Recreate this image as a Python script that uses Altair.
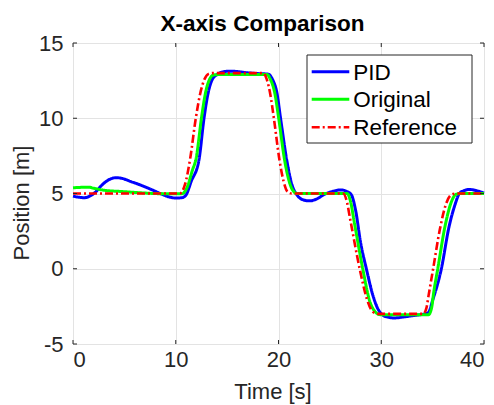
import altair as alt
import pandas as pd

# ---- data ----
pid_t = [0, 0.6, 1.1, 1.7, 2.2, 2.8, 3.4, 4.2, 4.8, 5.6, 6.5, 7.5, 8.5, 9.3, 10.0, 10.6, 11.0, 11.5,
         12.26, 12.75, 13.15, 13.5, 14.0, 14.6, 15.3, 16.0, 17.0, 18.0, 19.0, 19.4, 19.85, 20.2, 20.8,
         21.3, 21.8, 22.4, 23.0, 23.6, 24.5, 25.3, 26.1, 26.6, 27.1, 27.5, 28.0, 28.55, 29.2, 29.7,
         30.2, 30.7, 31.3, 32.0, 33.0, 34.2, 34.6, 35.0, 35.85, 36.6, 37.2, 37.6, 38.1, 38.6, 39.2, 40.0]
pid_y = [4.82, 4.75, 4.72, 4.85, 5.1, 5.55, 5.88, 6.05, 6.0, 5.8, 5.58, 5.3, 5.0, 4.78, 4.7, 4.72, 4.9, 5.8,
         7.23, 10.0, 11.67, 12.5, 12.9, 13.08, 13.13, 13.1, 13.02, 12.97, 12.93, 12.6, 11.67, 10.0, 7.23,
         5.6, 4.9, 4.58, 4.51, 4.6, 4.95, 5.15, 5.24, 5.15, 4.9, 3.9, 1.7, 0.0, -1.8, -2.7,
         -3.1, -3.22, -3.27, -3.22, -3.12, -3.0, -2.9, -2.1, 0.0, 2.8, 4.3, 5.0, 5.2, 5.27, 5.2, 5.03]

orig_t = [0, 1.5, 2.0, 3.0, 5.0, 7.0, 9.0, 10.6, 11.1, 11.6, 12.0, 12.5, 12.9, 13.3, 13.7, 14.2,
          18.9, 19.2, 19.63, 20.02, 20.6, 21.0, 21.4, 21.8, 26.7, 27.0, 27.4, 28.2, 28.9, 29.4, 29.9,
          34.6, 34.9, 35.1, 35.5, 36.2, 36.8, 37.3, 37.8, 40.0]
orig_y = [5.38, 5.42, 5.35, 5.22, 5.12, 5.03, 4.98, 4.98, 5.4, 6.5, 7.4, 10.0, 11.7, 12.6, 12.88, 12.9,
          12.9, 12.6, 11.7, 10.0, 7.2, 5.9, 5.2, 5.0, 5.0, 4.5, 3.0, 0.0, -2.2, -2.85, -3.05,
          -3.05, -2.6, -1.6, 0.0, 2.8, 4.4, 4.95, 5.0, 5.0]

ref_t = [0, 10.4, 10.9, 11.4, 11.95, 12.4, 12.8, 13.2, 13.6, 18.5, 18.85, 19.2, 19.55, 20.1, 20.5, 20.9,
         21.3, 26.3, 26.6, 27.0, 27.9, 28.6, 29.0, 29.4, 29.8, 34.1, 34.4, 34.6, 35.05, 35.7, 36.3,
         36.8, 37.3, 40.0]
ref_y = [5, 5, 5.6, 7.3, 10.0, 11.7, 12.6, 12.95, 13.0, 13.0, 12.6, 11.6, 10.0, 7.2, 5.8, 5.1,
         5.0, 5.0, 4.6, 3.2, 0.0, -2.0, -2.7, -2.95, -3.0, -3.0, -2.6, -1.8, 0.0, 2.6, 4.3,
         4.9, 5.0, 5.0]

series_names = ["PID", "Original", "Reference"]
series_colors = ["#0000FF", "#00FF00", "#FF0000"]
series_dash = [[1, 0], [1, 0], [8, 3, 2, 3]]
series_width = [3, 3, 2.6]

x_ticks = [0, 10, 20, 30, 40]
y_ticks = [-5, 0, 5, 10, 15]

W, H = 411, 301
FONT = "Liberation Sans"
AX = "#262626"

frames = {
    "PID": pd.DataFrame({"t": pid_t, "y": pid_y, "series": "PID"}),
    "Original": pd.DataFrame({"t": orig_t, "y": orig_y, "series": "Original"}),
    "Reference": pd.DataFrame({"t": ref_t, "y": ref_y, "series": "Reference"}),
}

xscale = alt.Scale(domain=[0, 40], nice=False, zero=False)
yscale = alt.Scale(domain=[-5, 15], nice=False, zero=False)

xaxis = alt.Axis(values=x_ticks, title="Time [s]", grid=True, gridColor="#e3e3e3",
                 ticks=False, tickSize=0, domain=False, labelPadding=5,
                 labelExpr="'' + datum.value",
                 labelFontSize=22, labelColor=AX, labelFont=FONT,
                 titleFontSize=22, titleFont=FONT, titleColor=AX, titleFontWeight="normal",
                 titleX=199.5, titleY=54, titleBaseline="alphabetic", titleAlign="center")
yaxis = alt.Axis(values=y_ticks, title="Position [m]", grid=True, gridColor="#e3e3e3",
                 ticks=False, tickSize=0, domain=False, labelPadding=10,
                 labelExpr="'' + datum.value",
                 labelFontSize=22, labelColor=AX, labelFont=FONT,
                 titleFontSize=22, titleFont=FONT, titleColor=AX, titleFontWeight="normal",
                 titleX=-52, titleY=159.5, titleBaseline="middle", titleAlign="center", titleAngle=270)

color_scale = alt.Scale(domain=series_names, range=series_colors)
dash_scale = alt.Scale(domain=series_names, range=series_dash)

X = lambda f: alt.X(f, scale=xscale, axis=xaxis)
Y = lambda f: alt.Y(f, scale=yscale, axis=yaxis)

layers = []
for name, w in zip(series_names, series_width):
    layers.append(
        alt.Chart(frames[name]).mark_line(strokeWidth=w, interpolate="monotone").encode(
            x=X("t:Q"),
            y=Y("y:Q"),
            color=alt.Color("series:N", scale=color_scale, legend=None),
            strokeDash=alt.StrokeDash("series:N", scale=dash_scale, legend=None),
        )
    )

# inward tick marks on all four sides
xt = pd.DataFrame({"t": x_ticks})
yt = pd.DataFrame({"y": y_ticks})
for y0, y1 in [(H, H - 4), (0, 4)]:
    layers.append(alt.Chart(xt).mark_rule(color=AX, strokeWidth=1).encode(
        x=X("t:Q"), y=alt.value(y0), y2=alt.value(y1)))
for x0, x1 in [(0, 4), (W, W - 4)]:
    layers.append(alt.Chart(yt).mark_rule(color=AX, strokeWidth=1).encode(
        y=Y("y:Q"), x=alt.value(x0), x2=alt.value(x1)))

# legend box
one = pd.DataFrame({"a": [0]})
layers.append(alt.Chart(one).mark_rect(fill="white", stroke="#262626", strokeWidth=1).encode(
    x=alt.value(234), x2=alt.value(399), y=alt.value(12), y2=alt.value(100)))
row_y = [28.7, 56.3, 84.3]
for name, col, dash, w, ry in zip(series_names, series_colors, series_dash, series_width, row_y):
    layers.append(alt.Chart(one).mark_rule(color=col, strokeWidth=w, strokeDash=dash).encode(
        x=alt.value(238.7), x2=alt.value(276.3), y=alt.value(ry)))
    layers.append(alt.Chart(pd.DataFrame({"label": [name]})).mark_text(
        align="left", baseline="middle", font=FONT, fontSize=22.5, color="black").encode(
        x=alt.value(280.3), y=alt.value(ry + 1), text="label:N"))

chart = alt.layer(*layers).properties(
    width=W, height=H,
    title=alt.TitleParams("X-axis Comparison", font=FONT, fontSize=22.5, fontWeight="bold",
                          color="black", anchor="middle", dx=-16, dy=31, offset=10,
                          baseline="alphabetic"),
    autosize=alt.AutoSizeParams(type="none"),
    padding={"left": 65, "top": 35, "right": 2, "bottom": 60},
).configure_view(stroke=AX, strokeWidth=1).configure(background="white")

chart.save("out.html", embed_options={"renderer": "svg", "actions": False})
